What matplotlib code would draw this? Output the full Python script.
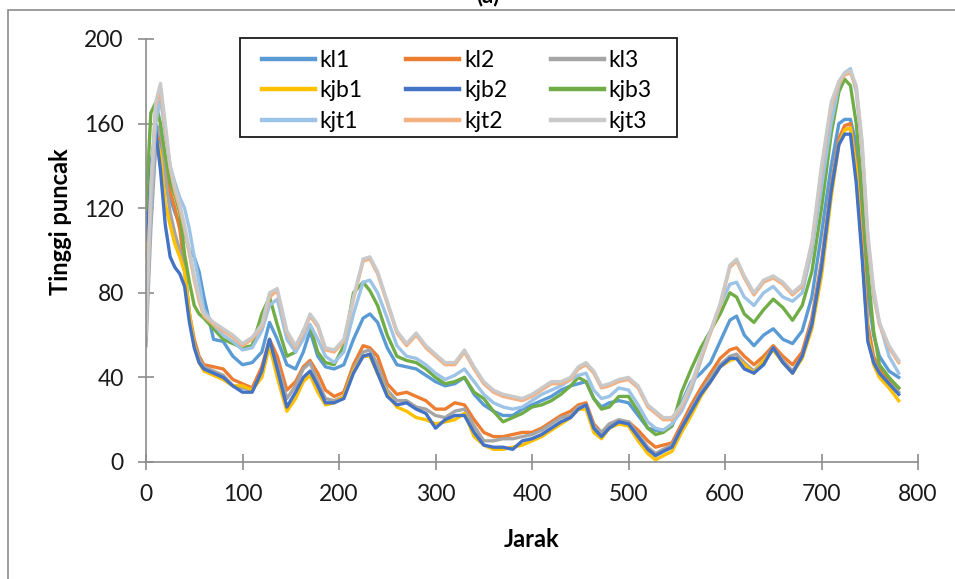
import numpy as np
import matplotlib.pyplot as plt
from matplotlib.patches import Rectangle

plt.rcParams['font.family'] = ['Lato', 'DejaVu Sans']

# jarak (sumbu x)
jarak = [0, 5, 10, 15, 20, 25, 30, 35, 40, 45, 50, 55, 60, 70, 80, 90, 100, 110, 120,
         128, 136, 146, 155, 163, 170, 178, 186, 195, 205, 215, 225, 232, 240,
         250, 260, 270, 280, 290, 300, 310, 320, 330, 340, 350, 360, 370, 380, 390,
         400, 410, 420, 430, 440, 448, 456, 464, 472, 480, 490, 500, 510, 520,
         528, 536, 545, 555, 565, 575, 585, 595, 605, 612, 620,
         630, 640, 650, 660, 670, 680, 690, 700, 710,
         718, 724, 730, 736, 742, 748, 754, 760, 770, 780]

kl1 = [90, 135, 160, 150, 132, 125, 118, 112, 108, 100, 97, 90, 78, 58, 57, 50, 46, 47, 52,
       66, 58, 46, 44, 52, 62, 50, 45, 44, 46, 58, 68, 70, 66,
       54, 46, 45, 44, 41, 38, 36, 37, 40, 32, 27, 24, 22, 22, 25,
       27, 29, 31, 34, 36, 37, 38, 30, 26, 28, 29, 28, 22, 16,
       15, 15, 17, 28, 38, 42, 47, 57, 67, 69, 60,
       55, 60, 63, 58, 56, 62, 78, 108, 140,
       160, 162, 162, 150, 118, 80, 60, 50, 43, 40]

kl2 = [80, 120, 150, 155, 140, 128, 120, 110, 92, 70, 58, 50, 46, 45, 44, 39, 37, 35, 45,
       58, 50, 34, 38, 45, 48, 42, 34, 31, 33, 46, 55, 54, 50,
       37, 32, 33, 31, 29, 25, 25, 28, 27, 20, 14, 12, 12, 13, 14,
       14, 16, 19, 22, 24, 27, 28, 18, 14, 17, 19, 19, 15, 10,
       7, 8, 9, 18, 27, 35, 42, 49, 53, 54, 50,
       46, 50, 55, 50, 46, 52, 68, 95, 130,
       153, 159, 160, 140, 105, 65, 50, 44, 39, 35]

kl3 = [55, 110, 150, 160, 135, 118, 108, 100, 90, 70, 56, 49, 45, 43, 41, 36, 35, 34, 42,
       56, 46, 30, 36, 44, 47, 38, 30, 29, 31, 44, 52, 53, 46,
       34, 29, 29, 26, 25, 22, 21, 24, 25, 17, 10, 10, 11, 11, 12,
       13, 15, 18, 21, 22, 26, 27, 17, 14, 18, 20, 19, 13, 7,
       4, 6, 8, 16, 25, 33, 40, 46, 50, 51, 47,
       43, 48, 54, 48, 43, 50, 66, 93, 128,
       151, 157, 158, 136, 100, 60, 48, 42, 37, 33]

kjb1 = [95, 135, 155, 145, 122, 112, 103, 97, 90, 70, 55, 47, 43, 41, 39, 36, 36, 34, 40,
        55, 40, 24, 30, 38, 41, 33, 27, 28, 31, 43, 50, 50, 42,
        32, 26, 24, 21, 20, 18, 19, 20, 23, 12, 8, 6, 6, 7, 8,
        10, 12, 15, 18, 21, 25, 25, 14, 11, 16, 18, 17, 10, 4,
        1, 3, 5, 14, 22, 31, 38, 45, 48, 49, 46,
        42, 48, 53, 47, 42, 49, 63, 88, 125,
        150, 157, 158, 138, 100, 60, 46, 40, 35, 29]

kjb2 = [105, 140, 157, 138, 112, 97, 92, 89, 83, 66, 54, 47, 44, 42, 40, 36, 33, 33, 43,
        58, 44, 26, 33, 40, 43, 36, 28, 28, 30, 42, 50, 51, 42,
        31, 27, 28, 25, 23, 16, 20, 22, 22, 14, 8, 7, 7, 6, 10,
        11, 13, 16, 19, 21, 25, 27, 16, 12, 16, 19, 18, 12, 6,
        3, 5, 7, 16, 24, 32, 38, 45, 49, 49, 44,
        42, 46, 54, 47, 42, 50, 65, 92, 128,
        150, 155, 155, 132, 97, 57, 47, 42, 37, 32]

kjb3 = [120, 165, 170, 160, 145, 132, 126, 118, 98, 85, 74, 70, 68, 63, 58, 56, 54, 55, 70,
        78, 65, 50, 52, 62, 64, 52, 47, 46, 55, 80, 85, 81, 74,
        60, 50, 48, 47, 44, 40, 37, 38, 40, 33, 30, 24, 19, 21, 23,
        26, 27, 29, 32, 36, 40, 38, 30, 25, 26, 31, 31, 24, 16,
        13, 14, 17, 33, 44, 54, 62, 70, 80, 78, 70,
        66, 72, 77, 73, 67, 74, 90, 120, 155,
        175, 181, 178, 160, 128, 90, 62, 46, 40, 35]

kjt1 = [65, 120, 160, 172, 155, 140, 132, 125, 120, 110, 97, 85, 72, 65, 60, 57, 53, 54, 62,
        74, 77, 58, 52, 58, 65, 58, 50, 47, 52, 70, 85, 86, 80,
        68, 55, 50, 49, 46, 42, 39, 41, 44, 38, 32, 28, 26, 25, 26,
        29, 32, 34, 36, 39, 41, 42, 34, 30, 31, 35, 34, 27, 19,
        16, 15, 18, 24, 34, 48, 62, 74, 84, 85, 78,
        74, 80, 83, 78, 76, 80, 100, 130, 160,
        178, 184, 186, 175, 148, 105, 78, 66, 50, 42]

kjt2 = [70, 128, 168, 176, 158, 139, 128, 120, 110, 98, 86, 76, 69, 65, 62, 59, 55, 58, 64,
        78, 81, 61, 54, 61, 69, 64, 53, 52, 57, 77, 95, 96, 89,
        75, 61, 55, 60, 54, 50, 46, 46, 52, 44, 37, 33, 31, 30, 29,
        31, 34, 37, 37, 39, 44, 46, 42, 35, 36, 38, 39, 35, 26,
        23, 20, 20, 26, 36, 49, 61, 74, 92, 95, 87,
        79, 85, 87, 84, 79, 83, 103, 138, 168,
        179, 183, 184, 177, 150, 106, 80, 65, 54, 47]

kjt3 = [60, 130, 170, 179, 160, 140, 130, 122, 112, 100, 88, 78, 70, 66, 63, 60, 56, 59, 65,
        80, 82, 62, 55, 62, 70, 65, 54, 53, 58, 78, 96, 97, 90,
        76, 62, 56, 61, 55, 51, 47, 47, 53, 45, 38, 34, 32, 31, 30,
        32, 35, 38, 38, 40, 45, 47, 43, 36, 37, 39, 40, 36, 27,
        24, 21, 21, 27, 37, 50, 62, 75, 93, 96, 88,
        80, 86, 88, 85, 80, 84, 104, 140, 170,
        180, 184, 185, 178, 152, 108, 82, 66, 55, 48]

nama_seri = ['kl1', 'kl2', 'kl3', 'kjb1', 'kjb2', 'kjb3', 'kjt1', 'kjt2', 'kjt3']
data_seri = [kl1, kl2, kl3, kjb1, kjb2, kjb3, kjt1, kjt2, kjt3]
warna = ['#5B9BD5', '#ED7D31', '#A5A5A5', '#FFC000', '#4472C4', '#70AD47',
         '#9DC3E6', '#F4B183', '#C9C9C9']


def plot_profil(ax):
    """Menggambar semua profil tinggi puncak terhadap jarak."""
    x = np.array(jarak)
    garis = []
    for nama, nilai, c in zip(nama_seri, data_seri, warna):
        g, = ax.plot(x, np.array(nilai), color=c, lw=2.4, label=nama,
                     solid_joinstyle='round')
        garis.append(g)

    ax.set_xlim(0, 800)
    ax.set_ylim(0, 200)
    ax.set_xticks(np.arange(0, 801, 100))
    ax.set_yticks(np.arange(0, 201, 40))

    for s in ['top', 'right']:
        ax.spines[s].set_visible(False)
    for s in ['left', 'bottom']:
        ax.spines[s].set_color('#8C8C8C')
        ax.spines[s].set_linewidth(1.2)
    ax.tick_params(direction='inout', length=12, width=1.2, color='#8C8C8C',
                   labelsize=16.5, labelcolor='#1a1a1a')
    ax.tick_params(axis='x', pad=10)
    ax.tick_params(axis='y', pad=10)

    ax.set_xlabel('Jarak', fontsize=17, fontweight='bold')
    ax.set_ylabel('Tinggi puncak', fontsize=17, fontweight='bold')
    ax.xaxis.set_label_coords(0.5, -0.157)
    ax.yaxis.set_label_coords(-0.096, 0.567)

    # kotak legenda digambar sendiri supaya jarak tepinya lebih lega
    kotak = Rectangle((0.1218, 0.7683), 0.566, 0.2341, transform=ax.transAxes,
                      facecolor='white', edgecolor='#1a1a1a', lw=1.3,
                      clip_on=False, zorder=4)
    ax.add_patch(kotak)

    # legenda diisi per kolom, jadi urutannya diatur agar terbaca per baris
    urutan = [0, 3, 6, 1, 4, 7, 2, 5, 8]
    leg = ax.legend([garis[i] for i in urutan], [nama_seri[i] for i in urutan],
                    ncol=3, loc='upper left', bbox_to_anchor=(0.1503, 0.975),
                    fontsize=16.5, frameon=False, handlelength=2.3,
                    handletextpad=0.22, columnspacing=1.9, labelspacing=0.42,
                    borderpad=0, borderaxespad=0)
    leg.set_zorder(5)
    for h in leg.get_lines():
        h.set_linewidth(3.2)


fig = plt.figure(figsize=(9.55, 5.79), dpi=100)
ax = fig.add_axes([146 / 955, 1 - 462 / 579, 772 / 955, 423 / 579])
plot_profil(ax)

# bingkai luar dan judul panel
fig.patches.append(Rectangle((8 / 955, -0.1), 1.2, 1 - 10 / 579 + 0.1,
                             transform=fig.transFigure, fill=False,
                             edgecolor='#8C8C8C', lw=1.2))
fig.text(488 / 955, 1 - 2 / 579, '(a)', ha='center', va='baseline',
         fontsize=16, fontweight='bold')

fig.savefig('out.png', dpi=100)
